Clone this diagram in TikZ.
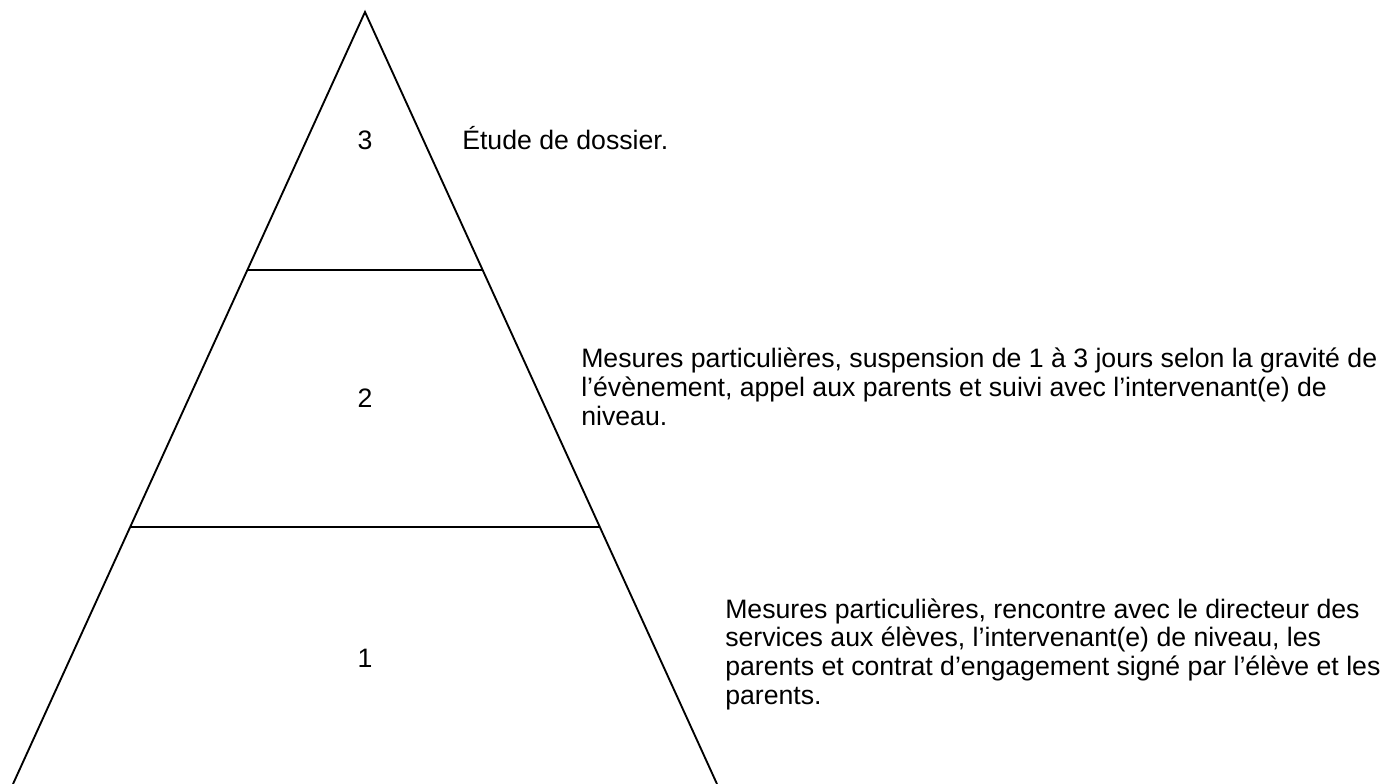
\documentclass[tikz,border=0pt]{standalone}
\usepackage{fontspec}
\setmainfont{Liberation Sans}
\usepackage{tikz}

\tikzset{
  level/.style={line width=1.4pt},
  caption/.style={anchor=base west, inner sep=0pt, align=left,
    font=\fontsize{20}{21.4}\selectfont},
  tiernum/.style={anchor=base, inner sep=0pt,
    font=\fontsize{20}{21.4}\selectfont}
}

\begin{document}
\begin{tikzpicture}[x=0.75pt,y=-0.75pt]
\useasboundingbox (0,0) rectangle (1398,784);

% pyramid corners
\coordinate (apex) at (365,12);
\coordinate (base left) at (13,784);
\coordinate (base right) at (717,784);
% tier edges
\coordinate (t3 left) at (247,270);
\coordinate (t3 right) at (483,270);
\coordinate (t2 left) at (130,527);
\coordinate (t2 right) at (600,527);

% sides
\draw[level] (base left) -- (apex) -- (base right);
% tiers
\draw[level] (t3 left) -- (t3 right);
\draw[level] (t2 left) -- (t2 right);

% tier numbers
\node[tiernum] (num3) at (365,150) {3};
\node[tiernum] (num2) at (365,407) {2};
\node[tiernum] (num1) at (365,667) {1};

% measures (base = last line)
\node[caption] (measure3) at (462,150) {Étude de dossier.};
\node[caption] (measure2) at (581,425)
  {Mesures particulières, suspension de 1 à 3 jours selon la gravité de\\
   l’évènement, appel aux parents et suivi avec l’intervenant(e) de\\
   niveau.};
\node[caption] (measure1) at (725,704)
  {Mesures particulières, rencontre avec le directeur des\\
   services aux élèves, l’intervenant(e) de niveau, les\\
   parents et contrat d’engagement signé par l’élève et les\\
   parents.};

\end{tikzpicture}
\end{document}
